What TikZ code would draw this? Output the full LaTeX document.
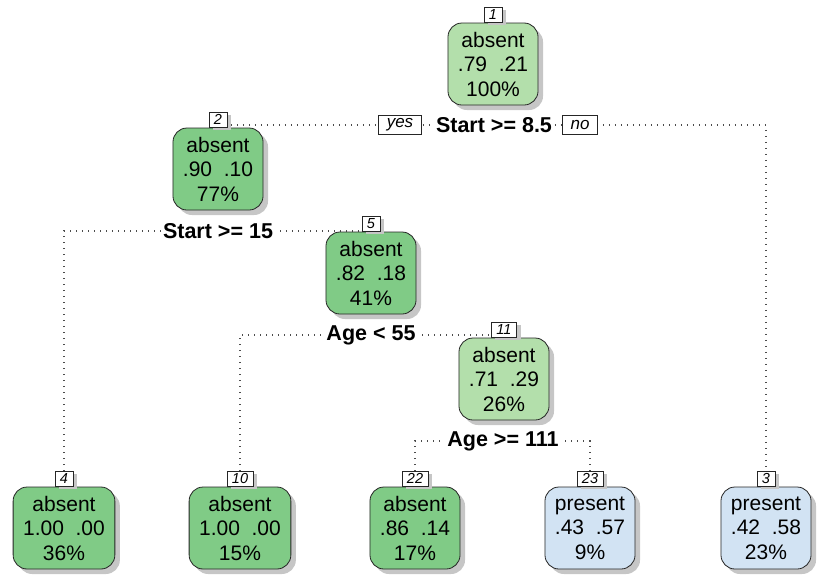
\documentclass[tikz,border=0pt]{standalone}
\usepackage{fontspec}
\setmainfont{Liberation Sans}
\usetikzlibrary{shadows,backgrounds}
\definecolor{gdark}{HTML}{80CB86}
\definecolor{glight}{HTML}{B3DFAB}
\definecolor{blight}{HTML}{D2E3F3}
\begin{document}
\begin{tikzpicture}[x=1pt,y=-1pt,
  treebox/.style={draw=black!85, line width=0.8pt, rounded corners=14pt,
    minimum height=82pt, inner xsep=10pt, inner ysep=0pt, align=center,
    font=\fontsize{21}{24.5}\selectfont,
    drop shadow={shadow xshift=5pt, shadow yshift=-5pt, fill=gray!45, opacity=1}},
  numbox/.style={draw=black!85, line width=0.6pt, fill=white,
    font=\itshape\fontsize{14.5}{14.5}\selectfont, inner xsep=5pt, inner ysep=0pt,
    minimum height=15pt, anchor=south,
    drop shadow={shadow xshift=4pt, shadow yshift=-3pt, fill=gray!45, opacity=1}},
  splitlab/.style={fill=white, font=\bfseries\fontsize{21.5}{21.5}\selectfont,
    inner xsep=2pt, inner ysep=1pt},
  yesno/.style={draw=black!85, line width=0.6pt, fill=white,
    font=\itshape\fontsize{17}{17}\selectfont, inner xsep=8pt, inner ysep=0pt,
    minimum height=19pt},
  edge/.style={draw=gray!60!black, line width=1.1pt, dash pattern=on 1.1pt off 4.9pt}
]
\useasboundingbox (0,0) rectangle (818,574);

% internal nodes
\node[treebox, fill=glight] (n1) at (493,64) {absent\\.79\ \ .21\\100\%};
\node[numbox] (n1num) at (n1.north) {1};
\node[treebox, fill=gdark] (n2) at (218,169) {absent\\.90\ \ .10\\77\%};
\node[numbox] (n2num) at (n2.north) {2};
\node[treebox, fill=gdark] (n5) at (371,273) {absent\\.82\ \ .18\\41\%};
\node[numbox] (n5num) at (n5.north) {5};
\node[treebox, fill=glight] (n11) at (504,379) {absent\\.71\ \ .29\\26\%};
\node[numbox] (n11num) at (n11.north) {11};

% leaves
\node[treebox, fill=gdark] (l4) at (64,528) {absent\\1.00\ \ .00\\36\%};
\node[numbox] (l4num) at (l4.north) {4};
\node[treebox, fill=gdark] (l10) at (240,528) {absent\\1.00\ \ .00\\15\%};
\node[numbox] (l10num) at (l10.north) {10};
\node[treebox, fill=gdark] (l22) at (415,528) {absent\\.86\ \ .14\\17\%};
\node[numbox] (l22num) at (l22.north) {22};
\node[treebox, fill=blight] (l23) at (590,528) {present\\.43\ \ .57\\9\%};
\node[numbox] (l23num) at (l23.north) {23};
\node[treebox, fill=blight] (l3) at (766,528) {present\\.42\ \ .58\\23\%};
\node[numbox] (l3num) at (l3.north) {3};

% split labels
\node[splitlab] (lab1) at (494,125) {Start >= 8.5};
\node[yesno] (yes) at (400,125) {yes};
\node[yesno] (no) at (580,125) {no};
\node[splitlab] (lab2) at (218,231) {Start >= 15};
\node[splitlab] (lab5) at (371,335) {Age < 55};
\node[splitlab] (lab11) at (503,441) {Age >= 111};

% connectors
\begin{scope}[on background layer]
\draw[edge] (n2num.center) |- (lab1.center) -| (l3num.north);
\draw[edge] (l4num.north) |- (lab2.center) -| (n5num.center);
\draw[edge] (l10num.north) |- (lab5.center) -| (n11num.center);
\draw[edge] (l22num.north) |- (lab11.center) -| (l23num.north);
\end{scope}
\end{tikzpicture}
\end{document}
